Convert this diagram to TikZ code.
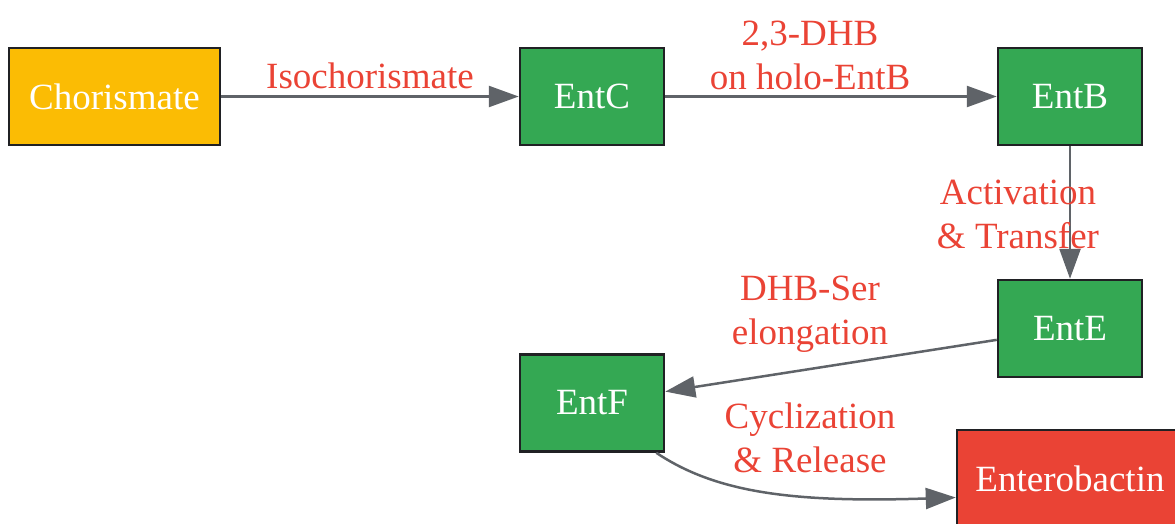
\documentclass[tikz,border=0pt]{standalone}
\usepackage{fontspec}
\setmainfont{Liberation Serif}
\usetikzlibrary{arrows.meta,calc}
\definecolor{cOrange}{HTML}{FBBC04}
\definecolor{cGreen}{HTML}{34A853}
\definecolor{cRed}{HTML}{EA4335}
\definecolor{cEdge}{HTML}{5F6368}
\definecolor{cBorder}{HTML}{202124}
\begin{document}
\begin{tikzpicture}[x=1pt,y=-1pt,
  box/.style={draw=cBorder,line width=2.5pt,text=white,inner sep=0pt,
    font=\fontsize{37}{44}\selectfont,minimum height=97pt},
  lbl/.style={text=cRed,font=\fontsize{37}{44}\selectfont,align=center,inner sep=0pt},
  conn/.style={draw=cEdge,line width=2.5pt,-{Triangle[length=30pt,width=21pt]}}]
\useasboundingbox (0,0) rectangle (1175,523);
\node[box,fill=cOrange,minimum width=211pt] (cho) at (114.5,96.5) {Chorismate};
\node[box,fill=cGreen,minimum width=144pt] (entc) at (592,96.5) {EntC};
\node[box,fill=cGreen,minimum width=144pt] (entb) at (1070,96.5) {EntB};
\node[box,fill=cGreen,minimum width=144pt] (ente) at (1070,328.5) {EntE};
\node[box,fill=cGreen,minimum width=144pt] (entf) at (592,403) {EntF};
\node[box,fill=cRed,minimum width=226pt] (ent) at (1070,478.5) {Enterobactin};
\draw[conn] (cho) -- (entc);
\draw[conn] (entc) -- (entb);
\draw[conn] (entb) -- (ente);
\draw[conn] (ente) -- (entf);
\draw[conn] ($(entf.south east)+(-9,0)$) .. controls (715,492) and (790,503) .. ($(ent.west)+(0,19)$);
\node[lbl] (l1) at (370,76) {Isochorismate};
\node[lbl] (l2) at (810,55) {2,3-DHB\\on holo-EntB};
\node[lbl] (l3) at (1018,214) {Activation\\\& Transfer};
\node[lbl] (l4) at (810,314) {DHB-Ser\\elongation};
\node[lbl] (l5) at (810,438) {Cyclization\\\& Release};
\end{tikzpicture}
\end{document}
